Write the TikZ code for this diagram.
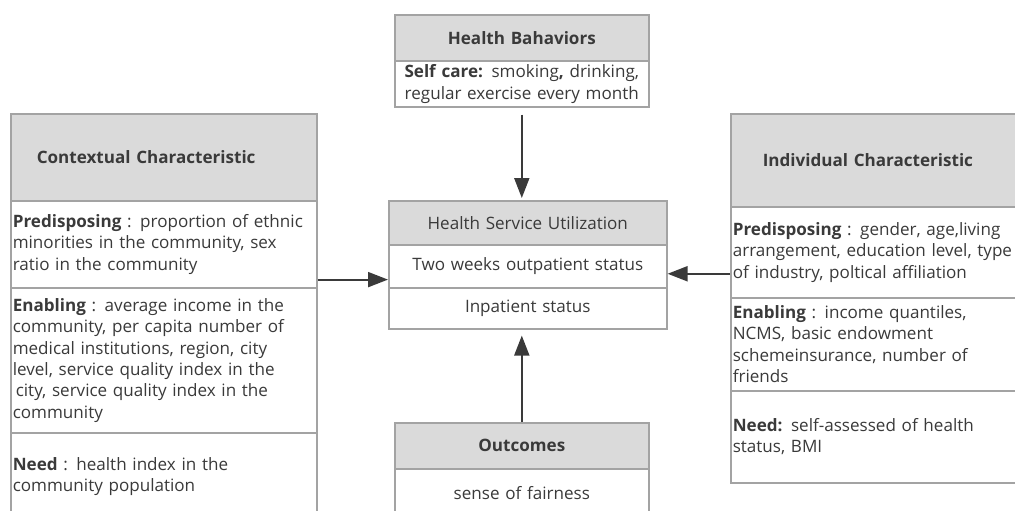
\documentclass[tikz,border=0pt]{standalone}
\usepackage{fontspec}
\setmainfont{Open Sans}
\usetikzlibrary{arrows.meta,positioning}
\definecolor{Ink}{HTML}{3A3A3A}
\definecolor{Frame}{HTML}{A3A3A3}
\definecolor{HeadGray}{HTML}{DADADA}

\begin{document}
\begin{tikzpicture}[x=0.75pt,y=-0.75pt,
    cell/.style={draw=Frame,line width=1.2pt,fill=white,text=Ink,
      inner xsep=1.5pt,inner ysep=0pt,anchor=north west,align=left,
      font=\fontsize{12.8}{16.1}\selectfont},
    head/.style={cell,fill=HeadGray},
    flow/.style={draw=Ink,line width=1.5pt,
      -{Triangle[length=15pt,width=11.25pt]}}]
    \useasboundingbox (0,0) rectangle (1015,511);
    \clip (0,0) rectangle (1015,511);

    \node[head,text width=226.5pt,minimum height=65.25pt] (ctxhead) at (10,113)
      {\hspace*{18pt}\textbf{Contextual Characteristic}};
    \node[cell,text width=226.5pt,minimum height=65.25pt] (ctxpre) at (10,200)
      {\textbf{Predisposing} : proportion of ethnic\\minorities in the community, sex\\ratio in the community};
    \node[cell,text width=226.5pt,minimum height=108.75pt] (ctxen) at (10,287)
      {\textbf{Enabling} : average income in the\\community, per capita number of\\medical institutions, region, city\\level, service quality index in the\\\hspace*{2.25pt}city, service quality index in the\\community};
    \node[cell,text width=226.5pt,minimum height=66pt] (ctxneed) at (10,432)
      {\textbf{Need} : health index in the\\community population};

    \node[head,text width=222pt,minimum height=69.75pt] (indhead) at (730,113)
      {\hspace*{22.5pt}\textbf{Individual Characteristic}};
    \node[cell,text width=222pt,minimum height=68.25pt] (indpre) at (730,206)
      {\textbf{Predisposing} : gender, age,living\\arrangement, education level, type\\of industry, poltical affiliation};
    \node[cell,text width=222pt,minimum height=69.75pt] (inden) at (730,297)
      {\textbf{Enabling} : income quantiles,\\NCMS, basic endowment\\schemeinsurance, number of\\friends};
    \node[cell,text width=222pt,minimum height=69pt] (indneed) at (730,390)
      {\textbf{Need:} self-assessed of health\\status, BMI};

    \node[head,align=center,text width=187.5pt,minimum height=34.5pt] (behavhead) at (394,14)
      {\textbf{Health Bahaviors}};
    \node[cell,align=center,text width=187.5pt,minimum height=34.5pt] (behavbody) at (394,60)
      {\textbf{Self care:} smoking\textbf{,} drinking,\\regular exercise every month};

    \node[head,align=center,text width=205.5pt,minimum height=33pt] (hsuhead) at (388,200)
      {Health Service Utilization};
    \node[cell,align=center,text width=205.5pt,minimum height=32.25pt] (hsuout) at (388,244)
      {Two weeks outpatient status};
    \node[cell,align=center,text width=205.5pt,minimum height=30.75pt] (hsuin) at (388,287)
      {Inpatient status};

    \node[head,align=center,text width=187.5pt,minimum height=34.5pt] (outchead) at (394,422)
      {\textbf{Outcomes}};
    \node[cell,align=center,text width=187.5pt,minimum height=36pt] (outcbody) at (394,468)
      {sense of fairness};

    \draw[flow,shorten <=5.25pt,shorten >=1.5pt] (behavbody.south) -- (behavbody.south |- hsuhead.north);
    \draw[flow,shorten >=4.5pt] (outchead.north) -- (outchead.north |- hsuin.south);
    \draw[flow] ([yshift=6.75pt]ctxpre.south east) -- ([yshift=6.75pt]ctxpre.south east -| hsuout.west);
    \draw[flow] ([yshift=-5.6pt]hsuout.east -| indpre.west) -- ([yshift=-5.6pt]hsuout.east);
\end{tikzpicture}
\end{document}
